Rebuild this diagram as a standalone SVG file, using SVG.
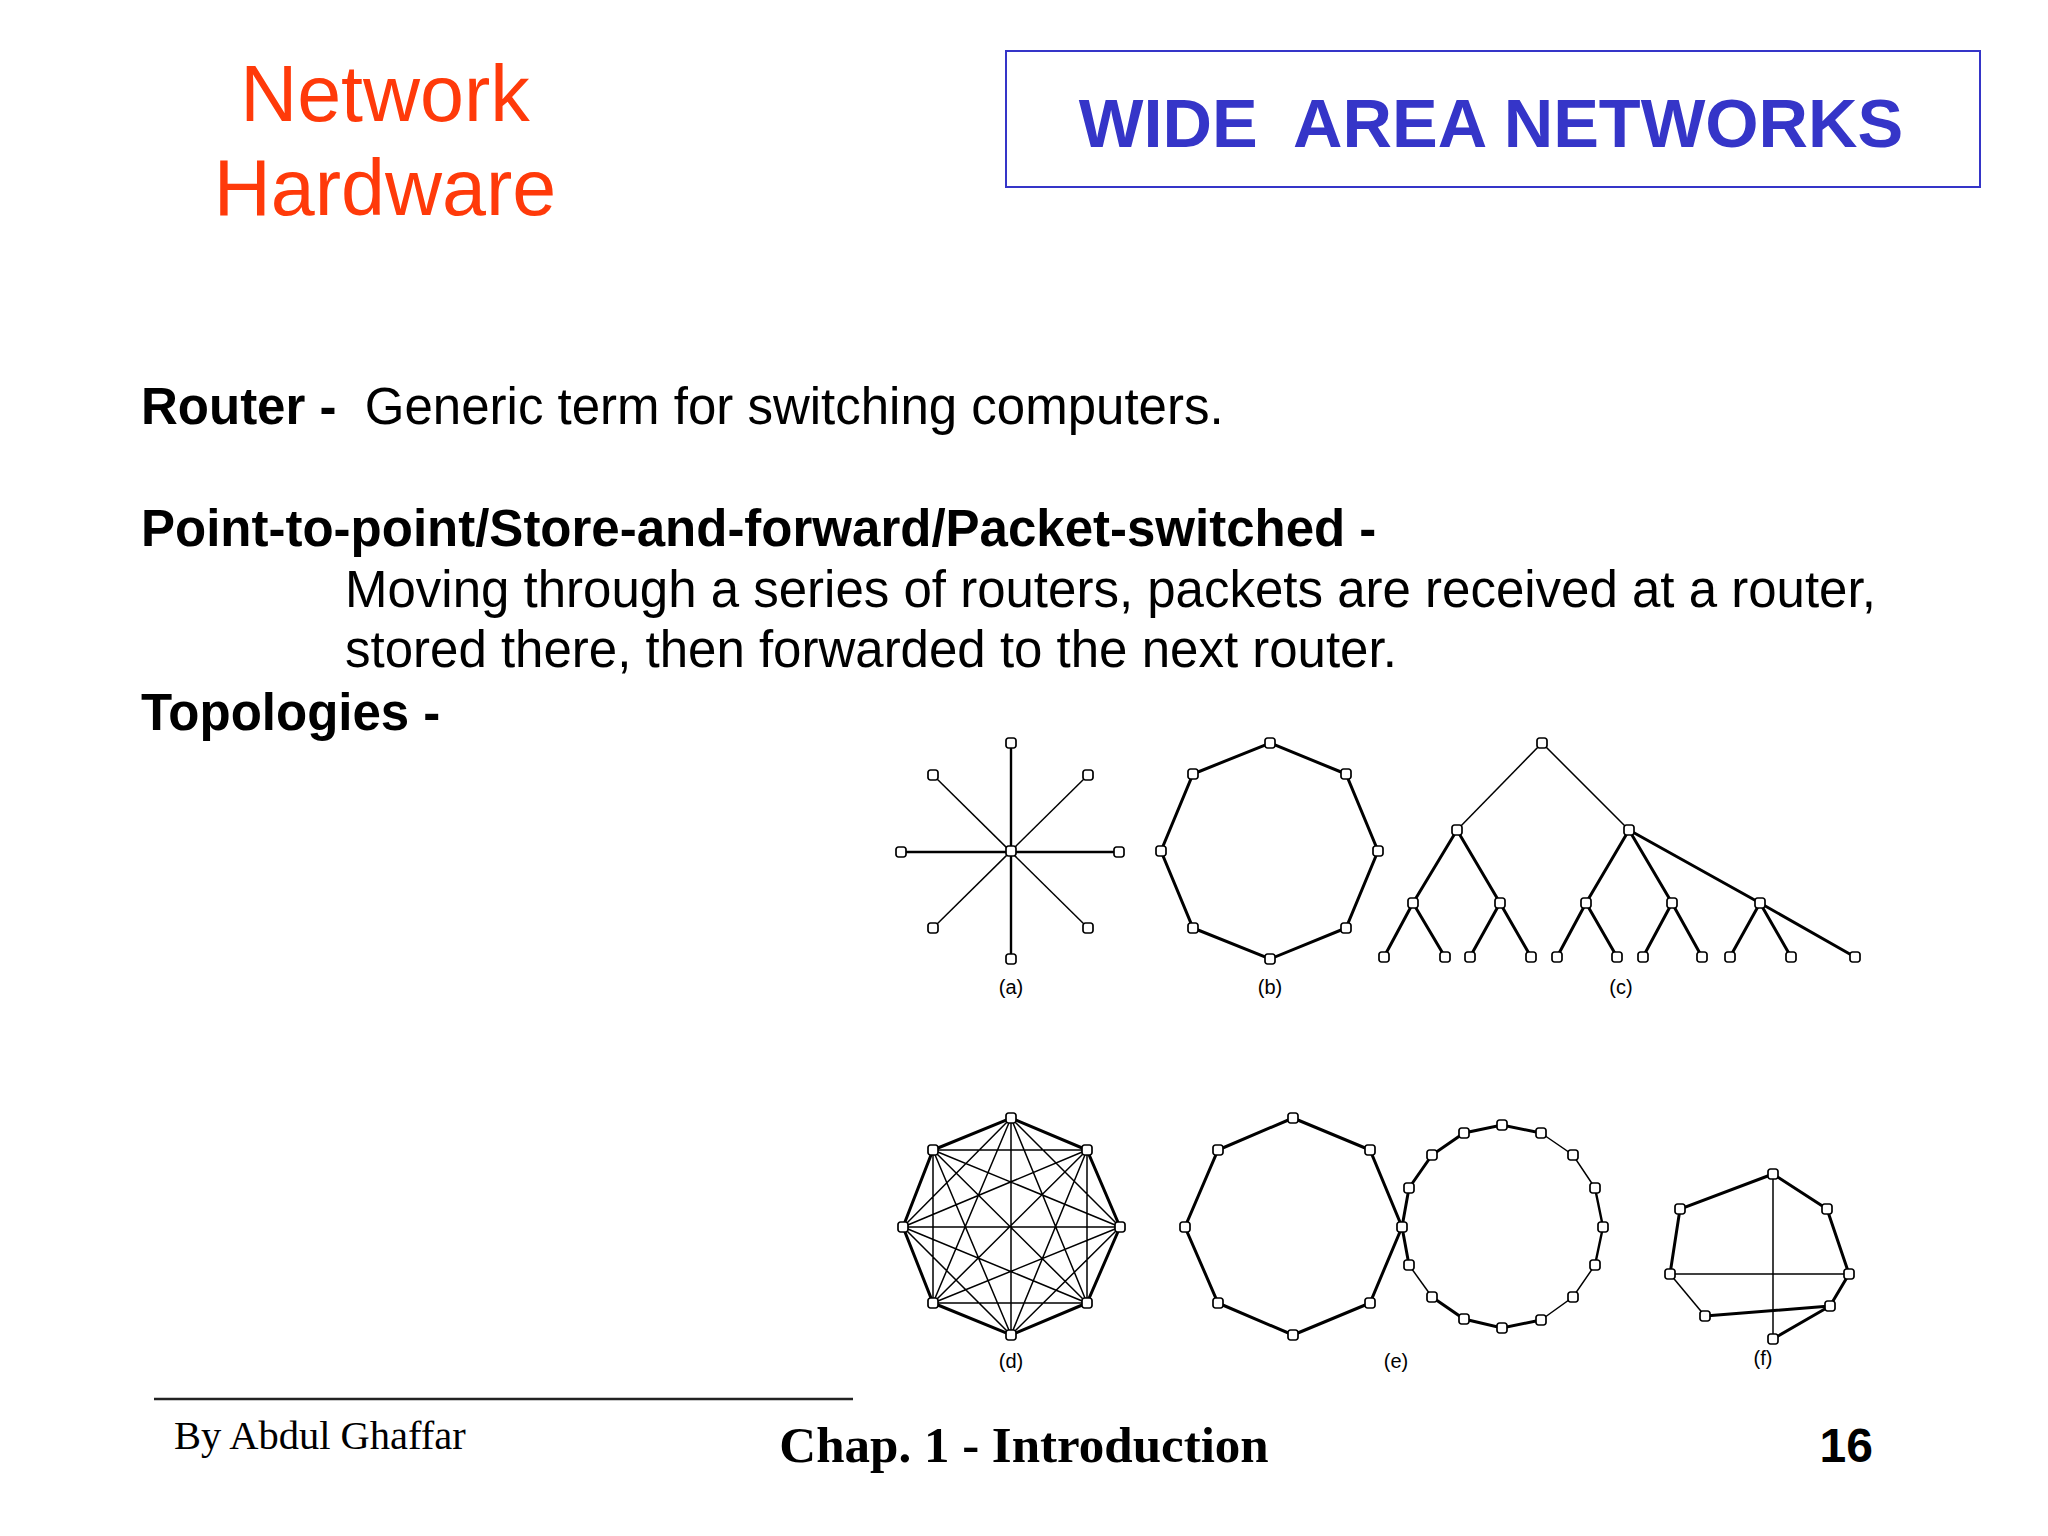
<svg xmlns="http://www.w3.org/2000/svg" width="2048" height="1536" viewBox="0 0 2048 1536">
<style>
.title{font-family:"Liberation Sans",Arial,sans-serif;font-size:79px;fill:#FF3A0A;}
.head{font-family:"Liberation Sans",Arial,sans-serif;font-size:68.5px;font-weight:bold;fill:#3535C8;}
.body{font-family:"Liberation Sans",Arial,sans-serif;font-size:51px;fill:#000;}
.b{font-weight:bold;}
.lbl{font-family:"Liberation Sans",Arial,sans-serif;font-size:20px;fill:#000;text-anchor:middle;}
.foot{font-family:"Liberation Serif","Times New Roman",serif;fill:#000;}
.thick{stroke:#000;stroke-width:3;fill:none;stroke-linecap:round;}
.thin{stroke:#000;stroke-width:1.5;fill:none;}
.mid{stroke:#000;stroke-width:2.4;fill:none;}
.n{fill:#fff;stroke:#000;stroke-width:1.7;}
</style>
<defs>
<rect id="nd" x="-5" y="-5" width="10" height="10" rx="2.5" class="n"/>
</defs>
<rect width="2048" height="1536" fill="#fff"/>

<!-- Header -->
<g id="title">
<text class="title" x="385" y="121" text-anchor="middle">Network</text>
<text class="title" x="385" y="215" text-anchor="middle">Hardware</text>
</g>
<g id="header-box">
<rect x="1006" y="51" width="974" height="136" fill="#fff" stroke="#3535C8" stroke-width="2"/>
<text class="head" x="1491" y="147" text-anchor="middle" xml:space="preserve">WIDE  AREA NETWORKS</text>
</g>

<!-- Body text -->
<g id="body">
<text class="body" x="141" y="424" xml:space="preserve"><tspan class="b">Router - </tspan> Generic term for switching computers.</text>
<text class="body b" x="141" y="546">Point-to-point/Store-and-forward/Packet-switched -</text>
<text class="body" x="345" y="607">Moving through a series of routers, packets are received at a router,</text>
<text class="body" x="345" y="667">stored there, then forwarded to the next router.</text>
<text class="body b" x="141" y="730">Topologies -</text>
</g>

<!-- (a) star -->
<g id="topo-a">
<g id="topo-a-connectors">
<line class="mid" x1="1011" y1="743" x2="1011" y2="959"/>
<line class="mid" x1="901" y1="852" x2="1119" y2="852"/>
<line class="thin" x1="933" y1="775" x2="1088" y2="928"/>
<line class="thin" x1="1088" y1="775" x2="933" y2="928"/>
</g>
<g id="topo-a-nodes">
<use href="#nd" x="1011" y="851"/>
<use href="#nd" x="1011" y="743"/>
<use href="#nd" x="1088" y="775"/>
<use href="#nd" x="1119" y="852"/>
<use href="#nd" x="1088" y="928"/>
<use href="#nd" x="1011" y="959"/>
<use href="#nd" x="933" y="928"/>
<use href="#nd" x="901" y="852"/>
<use href="#nd" x="933" y="775"/>
</g>
<text class="lbl" x="1011" y="994">(a)</text>
</g>

<!-- (b) ring -->
<g id="topo-b">
<g id="topo-b-connectors">
<polygon class="thick" points="1270,743 1346,774 1378,851 1346,928 1270,959 1193,928 1161,851 1193,774"/>
</g>
<g id="topo-b-nodes">
<use href="#nd" x="1270" y="743"/>
<use href="#nd" x="1346" y="774"/>
<use href="#nd" x="1378" y="851"/>
<use href="#nd" x="1346" y="928"/>
<use href="#nd" x="1270" y="959"/>
<use href="#nd" x="1193" y="928"/>
<use href="#nd" x="1161" y="851"/>
<use href="#nd" x="1193" y="774"/>
</g>
<text class="lbl" x="1270" y="994">(b)</text>
</g>

<!-- (c) tree -->
<g id="topo-c">
<g id="topo-c-connectors">
<line class="thin" x1="1542" y1="743" x2="1457" y2="830"/>
<line class="thin" x1="1542" y1="743" x2="1629" y2="830"/>
<line class="thick" x1="1457" y1="830" x2="1413" y2="903"/>
<line class="thick" x1="1457" y1="830" x2="1500" y2="903"/>
<line class="thick" x1="1629" y1="830" x2="1586" y2="903"/>
<line class="thick" x1="1629" y1="830" x2="1672" y2="903"/>
<line class="thick" x1="1629" y1="830" x2="1760" y2="903"/>
<line class="thick" x1="1413" y1="903" x2="1384" y2="957"/>
<line class="thick" x1="1413" y1="903" x2="1445" y2="957"/>
<line class="thick" x1="1500" y1="903" x2="1470" y2="957"/>
<line class="thick" x1="1500" y1="903" x2="1531" y2="957"/>
<line class="thick" x1="1586" y1="903" x2="1557" y2="957"/>
<line class="thick" x1="1586" y1="903" x2="1617" y2="957"/>
<line class="thick" x1="1672" y1="903" x2="1643" y2="957"/>
<line class="thick" x1="1672" y1="903" x2="1702" y2="957"/>
<line class="thick" x1="1760" y1="903" x2="1730" y2="957"/>
<line class="thick" x1="1760" y1="903" x2="1791" y2="957"/>
<line class="thick" x1="1760" y1="903" x2="1855" y2="957"/>
</g>
<g id="topo-c-nodes">
<use href="#nd" x="1542" y="743"/>
<use href="#nd" x="1457" y="830"/>
<use href="#nd" x="1629" y="830"/>
<use href="#nd" x="1413" y="903"/>
<use href="#nd" x="1500" y="903"/>
<use href="#nd" x="1586" y="903"/>
<use href="#nd" x="1672" y="903"/>
<use href="#nd" x="1760" y="903"/>
<use href="#nd" x="1384" y="957"/>
<use href="#nd" x="1445" y="957"/>
<use href="#nd" x="1470" y="957"/>
<use href="#nd" x="1531" y="957"/>
<use href="#nd" x="1557" y="957"/>
<use href="#nd" x="1617" y="957"/>
<use href="#nd" x="1643" y="957"/>
<use href="#nd" x="1702" y="957"/>
<use href="#nd" x="1730" y="957"/>
<use href="#nd" x="1791" y="957"/>
<use href="#nd" x="1855" y="957"/>
</g>
<text class="lbl" x="1621" y="994">(c)</text>
</g>

<!-- (d) complete -->
<g id="topo-d">
<g id="topo-d-connectors">
<polygon class="thick" points="1011,1118 1087,1150 1120,1227 1087,1303 1011,1335 933,1303 903,1227 933,1150"/>
<path class="thin" d="M1011,1118L1120,1227M1011,1118L1087,1303M1011,1118L1011,1335M1011,1118L933,1303M1011,1118L903,1227
M1087,1150L1087,1303M1087,1150L1011,1335M1087,1150L933,1303M1087,1150L903,1227M1087,1150L933,1150
M1120,1227L1011,1335M1120,1227L933,1303M1120,1227L903,1227M1120,1227L933,1150
M1087,1303L933,1303M1087,1303L903,1227M1087,1303L933,1150
M1011,1335L903,1227M1011,1335L933,1150
M933,1303L933,1150"/>
</g>
<g id="topo-d-nodes">
<use href="#nd" x="1011" y="1118"/>
<use href="#nd" x="1087" y="1150"/>
<use href="#nd" x="1120" y="1227"/>
<use href="#nd" x="1087" y="1303"/>
<use href="#nd" x="1011" y="1335"/>
<use href="#nd" x="933" y="1303"/>
<use href="#nd" x="903" y="1227"/>
<use href="#nd" x="933" y="1150"/>
</g>
<text class="lbl" x="1011" y="1368">(d)</text>
</g>

<!-- (e) intersecting rings -->
<g id="topo-e">
<g id="topo-e-connectors">
<polygon class="thick" points="1293,1118 1370,1150 1402,1227 1370,1303 1293,1335 1218,1303 1185,1227 1218,1150"/>
<polyline class="thick" points="1402,1227 1409,1188 1432,1155 1464,1133 1502,1125 1541,1133"/>
<polyline class="thin" points="1541,1133 1573,1155 1595,1188"/>
<polyline class="mid" points="1595,1188 1603,1227 1595,1265"/>
<polyline class="thin" points="1595,1265 1573,1297 1541,1320"/>
<polyline class="thick" points="1541,1320 1502,1328 1464,1319 1432,1297"/>
<polyline class="thin" points="1432,1297 1409,1265"/>
<polyline class="thick" points="1409,1265 1402,1227"/>
</g>
<g id="topo-e-nodes">
<use href="#nd" x="1293" y="1118"/>
<use href="#nd" x="1370" y="1150"/>
<use href="#nd" x="1402" y="1227"/>
<use href="#nd" x="1370" y="1303"/>
<use href="#nd" x="1293" y="1335"/>
<use href="#nd" x="1218" y="1303"/>
<use href="#nd" x="1185" y="1227"/>
<use href="#nd" x="1218" y="1150"/>
<use href="#nd" x="1409" y="1188"/>
<use href="#nd" x="1432" y="1155"/>
<use href="#nd" x="1464" y="1133"/>
<use href="#nd" x="1502" y="1125"/>
<use href="#nd" x="1541" y="1133"/>
<use href="#nd" x="1573" y="1155"/>
<use href="#nd" x="1595" y="1188"/>
<use href="#nd" x="1603" y="1227"/>
<use href="#nd" x="1595" y="1265"/>
<use href="#nd" x="1573" y="1297"/>
<use href="#nd" x="1541" y="1320"/>
<use href="#nd" x="1502" y="1328"/>
<use href="#nd" x="1464" y="1319"/>
<use href="#nd" x="1432" y="1297"/>
<use href="#nd" x="1409" y="1265"/>
</g>
<text class="lbl" x="1396" y="1368">(e)</text>
</g>

<!-- (f) irregular -->
<g id="topo-f">
<g id="topo-f-connectors">
<polyline class="thick" points="1830,1306 1849,1274 1827,1209 1773,1174 1680,1209 1670,1274"/>
<line class="thin" x1="1670" y1="1274" x2="1705" y2="1316"/>
<line class="thick" x1="1705" y1="1316" x2="1830" y2="1306"/>
<line class="thick" x1="1830" y1="1306" x2="1773" y2="1339"/>
<line class="thin" x1="1773" y1="1174" x2="1773" y2="1339"/>
<line class="thin" x1="1670" y1="1274" x2="1849" y2="1274"/>
</g>
<g id="topo-f-nodes">
<use href="#nd" x="1773" y="1174"/>
<use href="#nd" x="1827" y="1209"/>
<use href="#nd" x="1849" y="1274"/>
<use href="#nd" x="1830" y="1306"/>
<use href="#nd" x="1773" y="1339"/>
<use href="#nd" x="1705" y="1316"/>
<use href="#nd" x="1670" y="1274"/>
<use href="#nd" x="1680" y="1209"/>
</g>
<text class="lbl" x="1763" y="1365">(f)</text>
</g>

<!-- Footer -->
<g id="footer">
<line x1="154" y1="1399" x2="853" y2="1399" stroke="#222" stroke-width="2.5"/>
<text class="foot" x="174" y="1449" font-size="40.5">By Abdul Ghaffar</text>
<text class="foot" x="1024" y="1462" font-size="51" font-weight="bold" text-anchor="middle">Chap. 1 - Introduction</text>
<text x="1873" y="1462" font-family="Liberation Sans,Arial,sans-serif" font-size="48" font-weight="bold" text-anchor="end">16</text>
</g>
</svg>
